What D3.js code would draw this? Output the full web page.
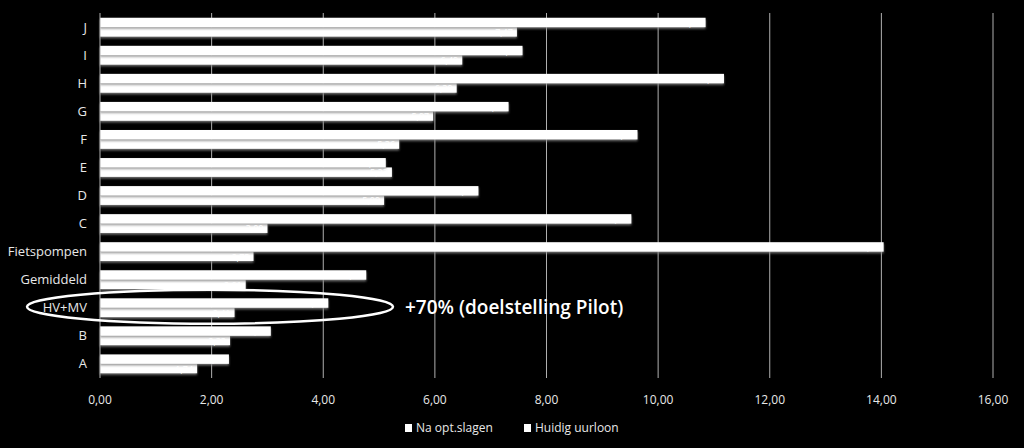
<!DOCTYPE html>
<html>
<head>
<meta charset="utf-8">
<script src="https://cdn.jsdelivr.net/npm/d3@7"></script>
<style>
  body { margin: 0; background: #000; }
  svg { display: block; }
</style>
</head>
<body>
<div id="chart"></div>
<script>
// categories top to bottom
const categories = ["J", "I", "H", "G", "F", "E", "D", "C", "Fietspompen", "Gemiddeld", "HV+MV", "B", "A"];
const naOptslagen = [10.85, 7.57, 11.18, 7.32, 9.63, 5.12, 6.78, 9.52, 14.04, 4.77, 4.09, 3.06, 2.31];
const huidigUurloon = [7.47, 6.49, 6.39, 5.97, 5.36, 5.23, 5.09, 3.00, 2.75, 2.61, 2.41, 2.33, 1.74];
const seriesNames = ["Na opt.slagen", "Huidig uurloon"];
const xTicks = [0, 2, 4, 6, 8, 10, 12, 14, 16];
const note = "+70% (doelstelling Pilot)";

let width = 1024, height = 448;
let margin = {left: 100, right: 31, top: 13, bottom: 70};
let font = "'Open Sans', sans-serif";

let svg = d3.select("#chart").append("svg")
    .attr("width", width)
    .attr("height", height)
    .style("background", "#000");

let defs = svg.append("defs");
let shadow = defs.append("filter").attr("id", "shadow")
    .attr("x", "-5%").attr("y", "-20%").attr("width", "110%").attr("height", "160%");
shadow.append("feDropShadow")
    .attr("dx", 0).attr("dy", 1.5).attr("stdDeviation", 0.8)
    .attr("flood-color", "#888").attr("flood-opacity", 0.9);

let x = d3.scaleLinear().domain([0, 16]).range([margin.left, width - margin.right]);
let y = d3.scaleBand().domain(categories).range([margin.top, height - margin.bottom]).paddingInner(0.33).paddingOuter(0.17);
let sub = d3.scaleBand().domain(seriesNames).range([0, y.bandwidth()]);

// gridlines
svg.append("g")
    .selectAll("line")
    .data(xTicks.slice(1))
    .join("line")
    .attr("x1", d => x(d)).attr("x2", d => x(d))
    .attr("y1", margin.top).attr("y2", height - margin.bottom)
    .attr("stroke", "#b0b0b0").attr("stroke-width", 1);

let rows = categories.map((c, i) => ({cat: c, values: [naOptslagen[i], huidigUurloon[i]]}));

let group = svg.append("g")
    .selectAll("g")
    .data(rows)
    .join("g")
    .attr("transform", d => `translate(0,${y(d.cat)})`);

group.selectAll("rect")
    .data(d => d.values.map((v, j) => ({s: seriesNames[j], v: v})).reverse())
    .join("rect")
    .attr("x", x(0))
    .attr("y", d => sub(d.s))
    .attr("width", d => x(d.v) - x(0))
    .attr("height", sub.bandwidth())
    .attr("fill", "#fff")
    .attr("filter", "url(#shadow)");

// data labels (white, inside end) - mostly hidden on the white bars
group.selectAll("text")
    .data(d => d.values.map((v, j) => ({s: seriesNames[j], v: v})))
    .join("text")
    .attr("x", d => x(d.v) - 4)
    .attr("y", d => sub(d.s) + sub.bandwidth() - 0.5)
    .attr("text-anchor", "end")
    .attr("font-family", font)
    .attr("font-size", 9)
    .attr("fill", "#fff")
    .text(d => d3.format(".2f")(d.v).replace(".", ","));

// y axis line
svg.append("line")
    .attr("x1", x(0)).attr("x2", x(0))
    .attr("y1", margin.top).attr("y2", height - margin.bottom)
    .attr("stroke", "#b0b0b0");

// category labels
svg.append("g")
    .selectAll("text")
    .data(categories)
    .join("text")
    .attr("x", x(0) - 13)
    .attr("y", d => y(d) + y.bandwidth() / 2)
    .attr("dy", "0.35em")
    .attr("text-anchor", "end")
    .attr("font-family", font)
    .attr("font-size", 13)
    .attr("fill", "#e8e8e8")
    .text(d => d);

// x tick labels
svg.append("g")
    .selectAll("text")
    .data(xTicks)
    .join("text")
    .attr("x", d => x(d))
    .attr("y", 404)
    .attr("text-anchor", "middle")
    .attr("font-family", font)
    .attr("font-size", 12)
    .attr("fill", "#e8e8e8")
    .text(d => d3.format(".2f")(d).replace(".", ","));

// legend
let legend = svg.append("g");
let lx = [405, 524];
seriesNames.forEach((s, i) => {
    legend.append("rect")
        .attr("x", lx[i]).attr("y", 424)
        .attr("width", 7).attr("height", 8)
        .attr("fill", "#fff");
    legend.append("text")
        .attr("x", lx[i] + 11).attr("y", 432)
        .attr("font-family", font)
        .attr("font-size", 12)
        .attr("fill", "#e8e8e8")
        .text(s);
});

// highlight ellipse around HV+MV
let hv = y("HV+MV") + y.bandwidth() / 2;
svg.append("ellipse")
    .attr("cx", 210).attr("cy", hv - 1)
    .attr("rx", 183).attr("ry", 17)
    .attr("fill", "none")
    .attr("stroke", "#fff")
    .attr("stroke-width", 2.5);

svg.append("text")
    .attr("x", 405).attr("y", hv + 6)
    .attr("font-family", font)
    .attr("font-size", 19)
    .attr("font-weight", 600)
    .attr("fill", "#fff")
    .text(note);
</script>
</body>
</html>
